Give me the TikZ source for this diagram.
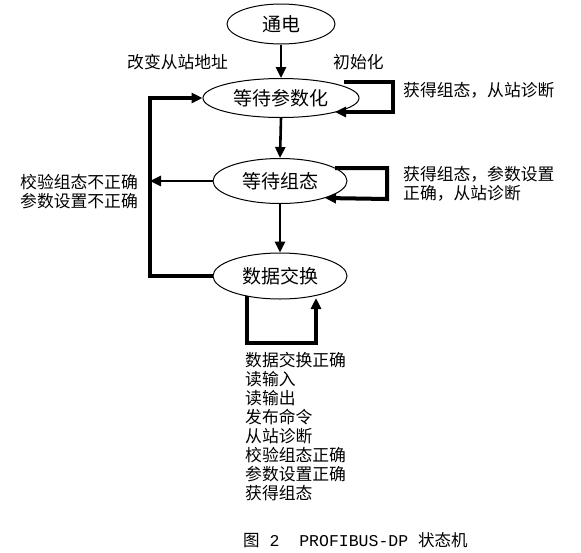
\documentclass[tikz,border=0pt]{standalone}
\usepackage{fontspec}
\setmainfont{Noto Sans CJK SC}
\newfontfamily\monof{Liberation Mono}
\usetikzlibrary{arrows.meta,shapes.geometric}
\tikzset{
  state/.style={draw, ellipse, line width=1pt, inner sep=0pt, font=\fontsize{19}{22}\selectfont},
  lbl/.style={inner sep=0pt, anchor=west, align=left, font=\fontsize{16.8}{19.1}\selectfont},
  arr/.style={line width=2.6pt, -{Triangle[length=11pt,width=10pt]}},
  thk/.style={line width=4pt, -{Triangle[length=11pt,width=10pt]}},
}
\begin{document}
\begin{tikzpicture}[x=1pt,y=-1pt]
\useasboundingbox (0,0) rectangle (581,552);
\node[state, minimum width=108pt, minimum height=40pt] (pw) at (281,24) {通电};
\node[state, minimum width=156pt, minimum height=39pt] (wp) at (281,98) {等待参数化};
\node[state, minimum width=134pt, minimum height=45pt] (wc) at (280,181) {等待组态};
\node[state, minimum width=134pt, minimum height=46pt] (de) at (280,276) {数据交换};

\node[lbl] (l1) at (127,62) {改变从站地址};
\node[lbl] (l2) at (333,62) {初始化};
\node[lbl] (l3) at (403,90) {获得组态，从站诊断};
\node[lbl] (l4) at (403,183.5) {获得组态，参数设置\\正确，从站诊断};
\node[lbl] (l5) at (20,191.5) {校验组态不正确\\参数设置不正确};
\node[lbl] (l6) at (245,426.5) {数据交换正确\\读输入\\读输出\\发布命令\\从站诊断\\校验组态正确\\参数设置正确\\获得组态};
\node[inner sep=0pt, anchor=west, font=\fontsize{16.5}{19}\selectfont] (cap) at (243,540) {图{\monof\ 2\ \ PROFIBUS-DP\ }状态机};

% main flow
\draw[arr] (pw.south) -- (wp.north);
\draw[arr] (wp.south) -- (wc.north);
\draw[arr] (wc.south) -- (de.north);

% self loop on wp
\coordinate (a1) at (344,82);
\coordinate (a2) at (393,112);
\coordinate (a3) at (335,112);
\draw[thk] (a1) -| (a2) -- (a3);

% self loop on wc
\coordinate (b1) at (335,168);
\coordinate (b2) at (387,199);
\coordinate (b3) at (325,198);
\draw[thk] (b1) -| (b2) -- (b3);

% bottom loop on de
\coordinate (c1) at (247,296);
\coordinate (c2) at (316,343);
\coordinate (c3) at (316,298);
\draw[thk] (c1) |- (c2) -- (c3);

% feedback
\coordinate (fb) at (150,98);
\draw[thk] (de.west) -| (fb) -- (wp.west);
\draw[arr] (wc.west) -- (fb |- wc.west);
\end{tikzpicture}
\end{document}
